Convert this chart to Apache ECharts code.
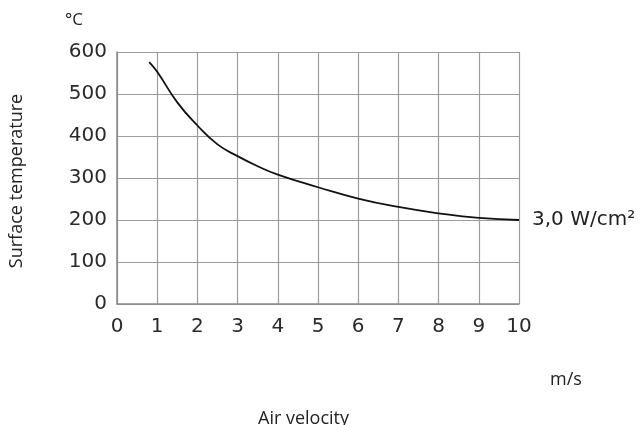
<!DOCTYPE html>
<html>
<head>
<meta charset="utf-8">
<script src="https://cdn.jsdelivr.net/npm/echarts@6/dist/echarts.min.js"></script>
<style>
  html, body { margin: 0; padding: 0; background: #fff; }
  #chart { width: 642px; height: 425px; }
</style>
</head>
<body>
<div id="chart"></div>
<script>
// air velocity (m/s) vs surface temperature (°C), 3,0 W/cm²
const velocity = [0.8, 1, 1.5, 2, 2.5, 3, 3.5, 4, 5, 6, 7, 8, 9, 10]
const temperature = [576, 553, 480, 425, 380, 352, 328, 308, 278, 251, 231, 216, 205, 200]
const seriesLabel = '3,0 W/cm²'

const curve = velocity.map((v, i) => [v, temperature[i]])

const gridColor = '#9c9c9c'
const tickFont = { fontFamily: 'DejaVu Sans', fontSize: 20, color: '#2a2a2a' }
const titleFont = '18px "Open Sans"'

const chart = echarts.init(document.getElementById('chart'))

chart.setOption({
  animation: false
  , backgroundColor: '#fff'
  , grid: { left: 117, right: 123, top: 52, bottom: 121 }
  , xAxis: {
    type: 'value'
    , min: 0
    , max: 10
    , interval: 1
    , axisLine: { lineStyle: { color: '#888', width: 1.5 } }
    , axisTick: { show: false }
    , axisLabel: Object.assign({ margin: 13 }, tickFont)
    , splitLine: { show: true, lineStyle: { color: gridColor, width: 1.2 } }
  }
  , yAxis: {
    type: 'value'
    , min: 0
    , max: 600
    , interval: 100
    , axisLine: { show: true, lineStyle: { color: '#888', width: 1.5 } }
    , axisTick: { show: false }
    , axisLabel: Object.assign({ margin: 10 }, tickFont)
    , splitLine: { show: true, lineStyle: { color: gridColor, width: 1.2 } }
  }
  , graphic: [
    { type: 'text', x: 65, y: 20
      , style: { text: '°C', font: '17px "Open Sans"', fill: '#222', textVerticalAlign: 'middle' } }
    , { type: 'text', x: 17, y: 181, rotation: Math.PI / 2
      , style: { text: 'Surface temperature', font: titleFont, fill: '#222'
        , textAlign: 'center', textVerticalAlign: 'middle' } }
    , { type: 'text', x: 550, y: 380
      , style: { text: 'm/s', font: titleFont, fill: '#222', textVerticalAlign: 'middle' } }
    , { type: 'text', x: 258, y: 419
      , style: { text: 'Air velocity', font: titleFont, fill: '#222', textVerticalAlign: 'middle' } }
  ]
  , series: [{
    name: seriesLabel
    , type: 'line'
    , data: curve
    , smooth: true
    , symbol: 'none'
    , lineStyle: { color: '#111', width: 1.8 }
    , endLabel: {
      show: true
      , formatter: seriesLabel
      , distance: 13
      , fontFamily: 'DejaVu Sans'
      , fontSize: 20
      , color: '#222'
    }
  }]
})
</script>
</body>
</html>
